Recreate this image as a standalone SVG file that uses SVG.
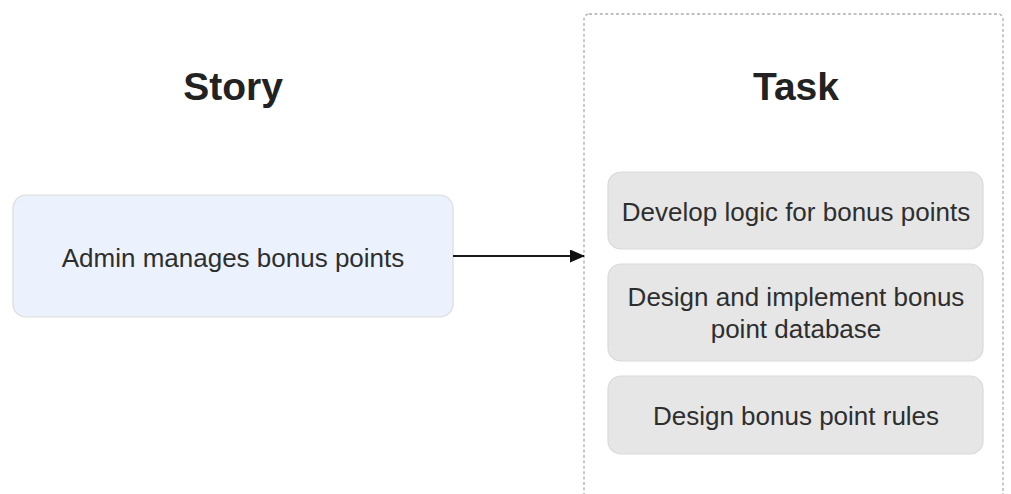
<svg xmlns="http://www.w3.org/2000/svg" width="1011" height="494" viewBox="0 0 1011 494">
  <defs>
    <style>
      .title { font-family: "Liberation Sans", Arial, sans-serif; font-weight: bold; font-size: 39px; fill: #222222; text-anchor: middle; }
      .label { font-family: "Liberation Sans", Arial, sans-serif; font-size: 26px; fill: #2e2e2e; text-anchor: middle; }
      .story { fill: #ecf2fd; stroke: #dcdcdc; stroke-width: 1.2; }
      .task { fill: #e6e6e6; stroke: #d9d9d9; stroke-width: 1.2; }
      .lane { fill: none; stroke: #adadad; stroke-width: 1.3; stroke-dasharray: 3 2.4; }
      .edge { fill: none; stroke: #1a1a1a; stroke-width: 1.8; }
    </style>
    <marker id="arrow" markerWidth="15" markerHeight="13" refX="14" refY="6.5" orient="auto" markerUnits="userSpaceOnUse">
      <path d="M0,0 L15,6.5 L0,13 Z" fill="#111111"/>
    </marker>
  </defs>

  <rect width="1011" height="494" fill="#ffffff"/>

  <!-- Task lane container -->
  <g id="task-lane">
    <rect class="lane" x="584" y="14" width="419" height="484" rx="5" ry="5"/>
    <text class="title" x="796" y="100">Task</text>
  </g>

  <!-- Story column heading -->
  <g id="story-heading">
    <text class="title" x="233" y="100">Story</text>
  </g>

  <g id="story-admin">
    <rect class="story" x="13" y="195" width="440" height="122" rx="13" ry="13"/>
    <text class="label" x="233" y="267">Admin manages bonus points</text>
  </g>

  <g id="task-logic">
    <rect class="task" x="608" y="172" width="375" height="77" rx="13" ry="13"/>
    <text class="label" x="796" y="221">Develop logic for bonus points</text>
  </g>

  <g id="task-database">
    <rect class="task" x="608" y="264" width="375" height="97" rx="13" ry="13"/>
    <text class="label" x="796" y="306">Design and implement bonus</text>
    <text class="label" x="796" y="338">point database</text>
  </g>

  <g id="task-rules">
    <rect class="task" x="608" y="376" width="375" height="78" rx="13" ry="13"/>
    <text class="label" x="796" y="425">Design bonus point rules</text>
  </g>

  <!-- Connectors -->
  <g id="connectors">
    <path class="edge" d="M453,256 L584,256" marker-end="url(#arrow)"/>
  </g>
</svg>
